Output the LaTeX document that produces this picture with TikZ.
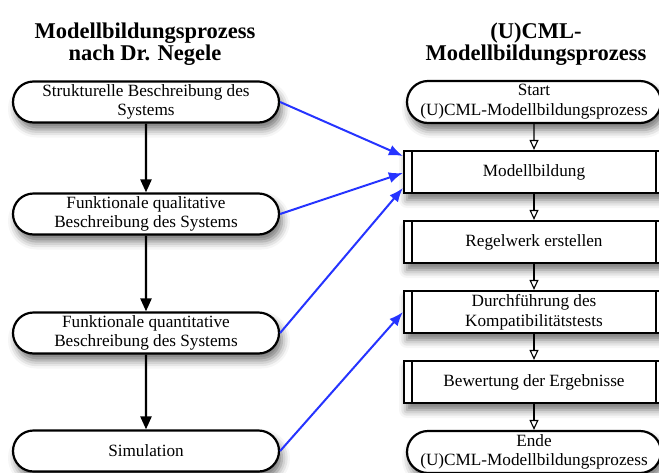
\documentclass[tikz,border=0pt]{standalone}
\usepackage{fontspec}
\setmainfont{Liberation Serif}
\usepackage{tikz}
\usetikzlibrary{arrows.meta,shapes.misc,shadows.blur}
\definecolor{linkblue}{RGB}{38,52,255}

\begin{document}
\begin{tikzpicture}[x=1pt,y=-1pt,
	  every node/.style={font=\fontsize{17.2}{19.7}\selectfont,align=center,inner sep=0pt},
	  soft/.style={blur shadow={shadow xshift=3pt,shadow yshift=-7pt,shadow blur radius=8pt,shadow opacity=55}},
	  stage/.style={rounded rectangle,draw,line width=2.2pt,fill=white,soft,minimum width=266pt,minimum height=41pt},
	  terminal/.style={rounded rectangle,draw,line width=2.2pt,fill=white,soft,minimum width=254pt,minimum height=42pt},
	  task/.style={rectangle,draw,line width=2.2pt,fill=white,soft,minimum width=260pt,minimum height=42pt,
	    path picture={
	      \draw[line width=2.2pt] ([xshift=8pt]path picture bounding box.north west) -- ([xshift=8pt]path picture bounding box.south west);
	      \draw[line width=2.2pt] ([xshift=-8pt]path picture bounding box.north east) -- ([xshift=-8pt]path picture bounding box.south east);}}]
	  \tikzstyle{heading} = [font=\fontsize{22.5}{22}\selectfont\bfseries]
	  \tikzstyle{flow} = [line width=2.4pt,-{Triangle[length=13pt,width=11pt]}]
	  \tikzstyle{nextstep} = [line width=1.1pt,-{Triangle[open,length=10pt,width=9pt,line width=1.1pt]}]
	  \tikzstyle{link} = [linkblue,line width=2pt,-{Latex[length=14pt,width=11pt]}]
	  \useasboundingbox (0,0) rectangle (659,472);
	  \clip (0,0) rectangle (659,472);
	  \node (h_1) [heading] at (145,44) {Modellbildungsprozess\\nach Dr. Negele};
	  \node (h_2) [heading] at (536,44) {(U)CML-\\Modellbildungsprozess};
	  \node (l_1) [stage] at (146,102) {Strukturelle Beschreibung des\\Systems};
	  \node (l_2) [stage] at (146,214) {Funktionale qualitative\\Beschreibung des Systems};
	  \node (l_3) [stage] at (146,333) {Funktionale quantitative\\Beschreibung des Systems};
	  \node (l_4) [stage] at (146,451) {Simulation};
	  \node (r_1) [terminal] at (534,102) {Start\\(U)CML-Modellbildungsprozess};
	  \node (r_2) [task] at (534,172) {Modellbildung};
	  \node (r_3) [task] at (534,242) {Regelwerk erstellen};
	  \node (r_4) [task] at (534,312) {Durchführung des\\Kompatibilitätstests};
	  \node (r_5) [task] at (534,382) {Bewertung der Ergebnisse};
	  \node (r_6) [terminal] at (534,452) {Ende\\(U)CML-Modellbildungsprozess};
	  \draw[flow] (l_1) -- (l_2);
	  \draw[flow] (l_2) -- (l_3);
	  \draw[flow] (l_3) -- (l_4);
	  \draw[nextstep] (r_1) -- (r_2);
	  \draw[nextstep] (r_2) -- (r_3);
	  \draw[nextstep] (r_3) -- (r_4);
	  \draw[nextstep] (r_4) -- (r_5);
	  \draw[nextstep] (r_5) -- (r_6);
	  \draw[link] (l_1.east) -- ([yshift=16pt]r_2.west);
	  \draw[link] (l_2.east) -- ([yshift=-1pt]r_2.west);
	  \draw[link] (l_3.east) -- ([yshift=-16pt]r_2.west);
	  \draw[link] (l_4.east) -- (r_4.west);
\end{tikzpicture}
\end{document}
